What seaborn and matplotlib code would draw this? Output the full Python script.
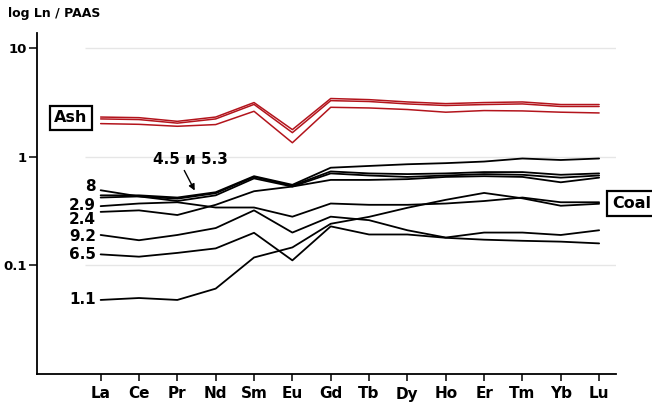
import numpy as np
import pandas as pd
import matplotlib
matplotlib.use("Agg")
import matplotlib.pyplot as plt
from matplotlib.ticker import NullLocator
import seaborn as sns

# ---- data -------------------------------------------------------------
elements = ["La", "Ce", "Pr", "Nd", "Sm", "Eu", "Gd", "Tb", "Dy", "Ho", "Er", "Tm", "Yb", "Lu"]

# Ash samples (red)
ash_a = [2.31, 2.28, 2.11, 2.31, 3.14, 1.77, 3.42, 3.34, 3.18, 3.07, 3.14, 3.18, 3.01, 3.01]
ash_b = [2.22, 2.19, 2.03, 2.22, 3.02, 1.66, 3.27, 3.21, 3.05, 2.95, 3.01, 3.05, 2.89, 2.89]
ash_c = [2.01, 1.98, 1.90, 1.97, 2.61, 1.34, 2.84, 2.80, 2.71, 2.56, 2.65, 2.63, 2.56, 2.52]

# Coal samples (black)
coal_4_5 = [0.44, 0.44, 0.42, 0.47, 0.66, 0.55, 0.79, 0.82, 0.85, 0.87, 0.90, 0.96, 0.93, 0.96]
coal_5_3 = [0.42, 0.43, 0.41, 0.46, 0.65, 0.54, 0.73, 0.70, 0.69, 0.70, 0.72, 0.72, 0.68, 0.70]
coal_8 = [0.49, 0.43, 0.39, 0.44, 0.63, 0.53, 0.70, 0.67, 0.65, 0.67, 0.69, 0.68, 0.64, 0.67]
coal_2_4 = [0.31, 0.32, 0.29, 0.36, 0.48, 0.53, 0.61, 0.61, 0.62, 0.65, 0.66, 0.65, 0.58, 0.64]
coal_2_9 = [0.35, 0.37, 0.38, 0.34, 0.34, 0.28, 0.37, 0.36, 0.36, 0.37, 0.39, 0.42, 0.38, 0.38]
coal_9_2 = [0.19, 0.17, 0.19, 0.22, 0.32, 0.20, 0.28, 0.26, 0.21, 0.18, 0.20, 0.20, 0.19, 0.21]
coal_6_5 = [0.126, 0.120, 0.130, 0.143, 0.199, 0.111, 0.228, 0.192, 0.192, 0.179, 0.172, 0.168, 0.165, 0.159]
coal_1_1 = [0.048, 0.050, 0.048, 0.061, 0.118, 0.146, 0.241, 0.279, 0.338, 0.400, 0.463, 0.413, 0.353, 0.368]

y_ticks = [0.1, 1, 10]
y_tick_labels = ["0.1", "1", "10"]

series = {
    "ash_a": ash_a, "ash_b": ash_b, "ash_c": ash_c,
    "4.5": coal_4_5, "5.3": coal_5_3, "8": coal_8, "2.4": coal_2_4,
    "2.9": coal_2_9, "9.2": coal_9_2, "6.5": coal_6_5, "1.1": coal_1_1,
}

rows = []
for name, vals in series.items():
    for i, v in enumerate(vals):
        rows.append({"pos": i, "value": v, "sample": name})
df = pd.DataFrame(rows)

RED = "#b3141c"
palette = {k: (RED if k.startswith("ash") else "black") for k in series}

# ---- figure -----------------------------------------------------------
sns.set_style("white")
plt.rcParams["font.family"] = ["DejaVu Sans"]
plt.rcParams["text.color"] = "black"
plt.rcParams["xtick.color"] = "black"
plt.rcParams["ytick.color"] = "black"
plt.rcParams["axes.labelcolor"] = "black"

W, H = 652, 405
fig = plt.figure(figsize=(W / 100, H / 100), dpi=100)
ax = fig.add_axes([37 / W, 1 - 374 / H, (616 - 37) / W, (374 - 33) / H])

# light horizontal grid lines
ax.hlines(y_ticks, -0.41, 13.5, colors="#e6e6e6", linewidth=1.0, zorder=0)

sns.lineplot(data=df[df["sample"].str.startswith("ash")], x="pos", y="value",
             hue="sample", palette=palette, estimator=None, sort=False,
             legend=False, linewidth=1.1, ax=ax)
sns.lineplot(data=df[~df["sample"].str.startswith("ash")], x="pos", y="value",
             hue="sample", palette=palette, estimator=None, sort=False,
             legend=False, linewidth=1.3, ax=ax)

ax.set_yscale("log")
ax.set_ylim(0.01, 13.7)
ax.set_xlim(-1.66, 13.44)
ax.set_yticks(y_ticks)
ax.set_yticklabels(y_tick_labels, fontsize=9.5, fontweight="bold", color="black")
ax.yaxis.set_minor_locator(NullLocator())
ax.set_xticks(range(len(elements)))
ax.set_xticklabels(elements, fontsize=11, fontweight="bold", color="black")
ax.set_xlabel("")
ax.set_ylabel("")
ax.tick_params(axis="y", direction="out", length=6, width=1.1, pad=1.5, left=True, colors="black")
ax.tick_params(axis="x", direction="out", length=5, width=1.1, pad=4, bottom=True, colors="black")
for s in ["top", "right"]:
    ax.spines[s].set_visible(False)
for s in ["left", "bottom"]:
    ax.spines[s].set_color("black")
    ax.spines[s].set_linewidth(1.3)

def ftext(x, y, s, **kw):
    fig.text(x / W, 1 - y / H, s, fontweight="bold", color="black", **kw)

ftext(8, 14, "log Ln / PAAS", fontsize=9, ha="left", va="center")

for lab, y in [("8", 186.5), ("2.9", 205.5), ("2.4", 220), ("9.2", 237),
               ("6.5", 254.5), ("1.1", 300)]:
    ftext(96, y, lab, fontsize=11, ha="right", va="center")

ftext(190, 160, "4.5 и 5.3", fontsize=11, ha="center", va="center")
fig.add_artist(matplotlib.patches.FancyArrowPatch(
    (183 / W, 1 - 168 / H), (196 / W, 1 - 193 / H),
    transform=fig.transFigure, arrowstyle="-|>", mutation_scale=9,
    color="black", linewidth=1.0))

box = dict(boxstyle="square,pad=0.3", fc="white", ec="black", lw=1.6)
ftext(71, 118, "Ash", fontsize=11.5, ha="center", va="center", bbox=box)
ftext(612, 203.5, "Coal", fontsize=11.5, ha="left", va="center", bbox=box)

fig.savefig("out.png", dpi=100)
